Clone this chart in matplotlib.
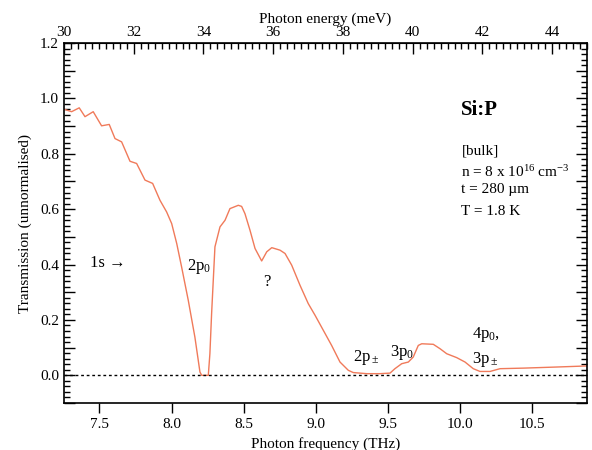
import numpy as np
import matplotlib
matplotlib.use('Agg')
import matplotlib.pyplot as plt
from matplotlib.ticker import MultipleLocator, FixedLocator, FuncFormatter

matplotlib.rcParams['font.family'] = 'Liberation Serif'
matplotlib.rcParams['mathtext.fontset'] = 'custom'
matplotlib.rcParams['mathtext.rm'] = 'Liberation Serif'
matplotlib.rcParams['mathtext.it'] = 'Liberation Serif:italic'
matplotlib.rcParams['mathtext.bf'] = 'Liberation Serif:bold'
matplotlib.rcParams['font.size'] = 11

# Si:P transmission spectrum
freq_thz = [7.254, 7.307, 7.360, 7.400, 7.457, 7.515, 7.568, 7.608, 7.654, 7.712,
            7.758, 7.816, 7.869, 7.920, 7.966, 8.001, 8.036, 8.070, 8.116, 8.162,
            8.197, 8.209, 8.255, 8.266, 8.278, 8.301, 8.336, 8.371, 8.405, 8.463,
            8.486, 8.509, 8.544, 8.579, 8.625, 8.660, 8.695, 8.752, 8.787, 8.833,
            8.891, 8.948, 8.995, 9.052, 9.110, 9.168, 9.226, 9.260, 9.353, 9.445,
            9.515, 9.549, 9.596, 9.642, 9.676, 9.711, 9.735, 9.815, 9.862, 9.908,
            9.977, 10.035, 10.092, 10.139, 10.208, 10.278, 10.439, 10.671, 10.886]
transmission = [0.961, 0.952, 0.966, 0.934, 0.952, 0.901, 0.906, 0.855, 0.843, 0.773,
                0.765, 0.705, 0.693, 0.632, 0.590, 0.548, 0.476, 0.391, 0.271, 0.138,
                0.012, 0.0, 0.0, 0.078, 0.224, 0.464, 0.536, 0.560, 0.602, 0.614,
                0.610, 0.584, 0.524, 0.458, 0.413, 0.446, 0.461, 0.452, 0.440, 0.398,
                0.325, 0.259, 0.217, 0.163, 0.108, 0.048, 0.018, 0.010, 0.006, 0.006,
                0.008, 0.024, 0.042, 0.048, 0.066, 0.108, 0.114, 0.112, 0.096, 0.078,
                0.064, 0.048, 0.024, 0.014, 0.014, 0.024, 0.026, 0.030, 0.034]

mev_ticks = [30, 32, 34, 36, 38, 40, 42, 44]
THZ_PER_MEV = 0.2417989
mev_range = (30, 45)

fig = plt.figure(figsize=(5.92, 4.5), dpi=100)
ax = fig.add_axes([0.108, 0.1044, 0.8836, 0.80])

ax.plot(freq_thz, transmission, color='#f07a5a', lw=1.0)
ax.axhline(0, color='black', lw=1.0, ls=(0, (2, 2)))

ax.set_xlim(mev_range[0] * THZ_PER_MEV, mev_range[1] * THZ_PER_MEV)
ax.set_ylim(-0.1, 1.2)

# bottom axis: outward major ticks only
ax.xaxis.set_major_locator(FixedLocator([7.5, 8.0, 8.5, 9.0, 9.5, 10.0, 10.5]))
ax.xaxis.set_major_formatter(FuncFormatter(lambda v, p: '%.1f' % v))
ax.tick_params(axis='x', direction='out', length=7, width=1, pad=4, labelsize=11)

# y axis: inward ticks both sides
ax.yaxis.set_major_locator(FixedLocator(np.round(np.arange(-0.1, 1.21, 0.1), 2)))
ax.yaxis.set_minor_locator(MultipleLocator(0.02))
ax.yaxis.set_major_formatter(FuncFormatter(
    lambda v, p: '%.1f' % v if abs(round(v * 10) % 2) == 0 else ''))
ax.tick_params(axis='y', which='major', direction='in', length=8, width=1,
               right=True, labelsize=11)
ax.tick_params(axis='y', which='minor', direction='in', length=4, width=1, right=True)

for s in ax.spines.values():
    s.set_linewidth(1.2)

# top axis in meV
sec = ax.secondary_xaxis('top', functions=(lambda f: f / THZ_PER_MEV,
                                           lambda e: e * THZ_PER_MEV))
sec.xaxis.set_major_locator(FixedLocator(mev_ticks))
sec.xaxis.set_minor_locator(MultipleLocator(0.2))
sec.tick_params(which='major', direction='in', length=8, width=1, labelsize=11, pad=3)
sec.tick_params(which='minor', direction='in', length=4, width=1)
sec.set_xlabel('Photon energy (meV)', fontsize=11, labelpad=2)

ax.set_xlabel('Photon frequency (THz)', fontsize=11, labelpad=4)
ax.set_ylabel('Transmission (unnormalised)', fontsize=11, labelpad=6)

# labels
ax.text(10.01, 0.958, 'Si:P', fontsize=15, fontweight='bold', va='center')
ax.text(10.01, 0.81, '[bulk]', fontsize=11, va='center')
ax.text(10.01, 0.734, r'n = 8 x 10$^{16}$ cm$^{-3}$', fontsize=11, va='center')
ax.text(10.01, 0.672, 't = 280 µm', fontsize=11, va='center')
ax.text(10.01, 0.593, 'T = 1.8 K', fontsize=11, va='center')

ax.text(7.434, 0.405, '1s →', fontsize=12, va='center')
ax.text(8.107, 0.394, r'2p$_0$', fontsize=12, va='center')
ax.text(8.634, 0.336, '?', fontsize=12, va='center')
ax.text(9.258, 0.065, r'2p$_\pm$', fontsize=12, va='center')
ax.text(9.515, 0.083, r'3p$_0$', fontsize=12, va='center')
ax.text(10.083, 0.148, r'4p$_0$,', fontsize=12, va='center')
ax.text(10.083, 0.058, r'3p$_\pm$', fontsize=12, va='center')

plt.savefig('out.png', dpi=100)
